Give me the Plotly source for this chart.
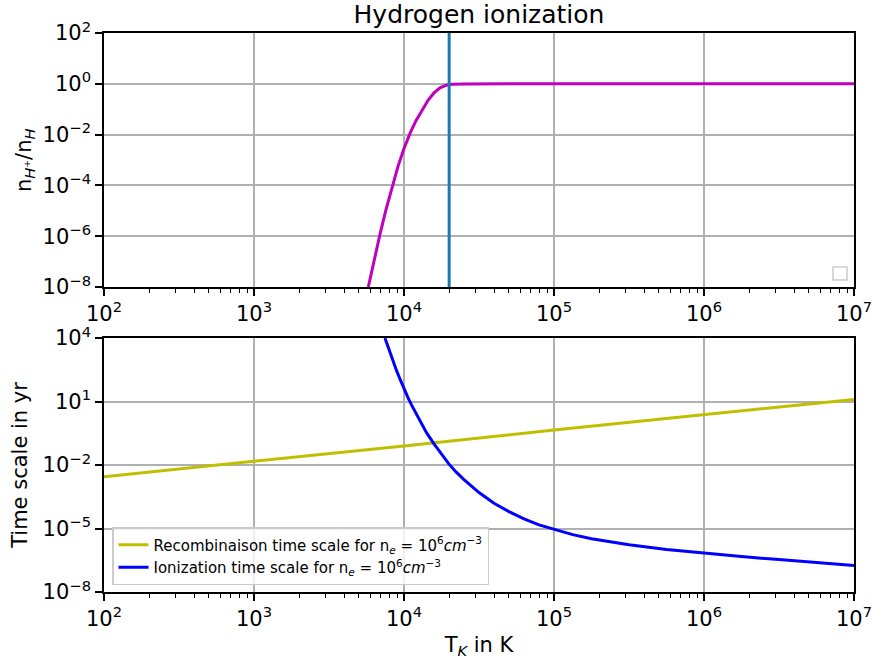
import plotly.graph_objects as go

# ---- data ----
# top panel: ionization fraction n_H+/n_H vs temperature (K)
frac_T = [5781, 6310, 6918, 7586, 8318, 9120, 10000, 10965, 12023, 13183,
          14454, 15849, 17378, 19055, 20893, 25119, 31623, 1e5, 1e6, 1e7]
frac_val = [1e-8, 1.12e-7, 1.20e-6, 1.12e-5, 8.91e-5, 5.62e-4, 2.82e-3, 1.12e-2,
            3.55e-2, 9.55e-2, 0.224, 0.437, 0.692, 0.871, 0.955, 0.989, 0.998,
            1.0, 1.0, 1.0]
T_marker = 2e4  # vertical line position (K)

# bottom panel: time scales in yr
recomb_T = [1e2, 1e3, 1e4, 1e5, 1e6, 1e7]
recomb_t = [2.82e-3, 1.45e-2, 7.94e-2, 0.447, 2.29, 12.6]

ion_T = [7464, 7943, 8913, 9441, 10000, 10593, 11220, 12589, 14125, 15849,
         17783, 19953, 22387, 25119, 31623, 39811, 50119, 63096, 79433, 1e5,
         133352, 177828, 237137, 316228, 562341, 1e6, 1778279, 3162278,
         5623413, 1e7]
ion_t = [1e4, 2692, 295, 107, 38.0, 16.2, 6.92, 1.41, 0.339, 0.1,
         0.0339, 0.01096, 4.47e-3, 2.04e-3, 5.01e-4, 1.55e-4, 6.31e-5, 2.88e-5,
         1.48e-5, 8.91e-6, 5.13e-6, 3.31e-6, 2.29e-6, 1.70e-6, 1.02e-6, 6.76e-7,
         4.73e-7, 3.39e-7, 2.51e-7, 1.78e-7]

x_tick_exp = [2, 3, 4, 5, 6, 7]
y1_tick_exp = [-8, -6, -4, -2, 0, 2]
y2_tick_exp = [-8, -5, -2, 1, 4]

title_text = "Hydrogen ionization"
y1_label = "n<sub><i>H</i>\u207a</sub>/n<sub><i>H</i></sub>"
y2_label = "Time scale in yr"
x_label = "T<sub><i>K</i></sub> in K"
legend_recomb = "Recombinaison time scale for n<sub><i>e</i></sub> = 10<sup>6</sup><i>cm</i><sup>\u22123</sup>"
legend_ion = "Ionization time scale for n<sub><i>e</i></sub> = 10<sup>6</sup><i>cm</i><sup>\u22123</sup>"


def pow_label(e):
    s = str(e).replace("-", "\u2212")
    return f"10<sup>{s}</sup>"


FONT = "DejaVu Sans"
W, H = 872, 666
L, R, T, B = 104, 18, 33, 74
pw = W - L - R
ph = H - T - B
top_dom = [(592 - 287) / ph, 1.0]
bot_dom = [0.0, (592 - 338) / ph]

fig = go.Figure()

fig.add_trace(go.Scatter(x=frac_T, y=frac_val, mode="lines",
                         line=dict(color="#bf00bf", width=3),
                         xaxis="x", yaxis="y", showlegend=False))
fig.add_trace(go.Scatter(x=recomb_T, y=recomb_t, mode="lines", name=legend_recomb,
                         line=dict(color="#bfbf00", width=3),
                         xaxis="x2", yaxis="y2"))
fig.add_trace(go.Scatter(x=ion_T, y=ion_t, mode="lines", name=legend_ion,
                         line=dict(color="#0000ff", width=3),
                         xaxis="x2", yaxis="y2"))

fig.add_shape(type="line", xref="x", yref="y domain", x0=T_marker, x1=T_marker,
              y0=0, y1=1, line=dict(color="#1f77b4", width=3))

# empty legend box in top panel
fig.add_shape(type="rect", xref="paper", yref="paper",
              x0=(833 - L) / pw, x1=(847 - L) / pw,
              y0=(592 - 280) / ph, y1=(592 - 267) / ph,
              line=dict(color="#cccccc", width=1.5), fillcolor="white")

# top y-axis label as annotation for exact placement
fig.add_annotation(text=y1_label, xref="paper", yref="paper",
                   x=(25 - L) / pw, y=(top_dom[0] + top_dom[1]) / 2,
                   xanchor="center", yanchor="middle", textangle=-90,
                   showarrow=False, font=dict(family=FONT, size=21, color="black"))

minor_vals = [m * 10 ** e for e in range(2, 7) for m in range(2, 10)]

xcommon = dict(type="log", range=[2, 7], tickvals=[10 ** e for e in x_tick_exp],
               ticktext=[pow_label(e) for e in x_tick_exp],
               showgrid=True, gridcolor="#b0b0b0", gridwidth=1.6,
               showline=True, linecolor="black", linewidth=1.6, mirror=True,
               ticks="outside", ticklen=7, tickwidth=1.6, tickcolor="black",
               minor=dict(tickvals=minor_vals, ticks="outside", ticklen=4,
                          tickwidth=1.2, tickcolor="black", showgrid=False),
               tickfont=dict(family=FONT, size=21, color="black"),
               ticklabeloverflow="allow",
               zeroline=False, automargin=False)
ycommon = dict(type="log", showgrid=True, gridcolor="#b0b0b0", gridwidth=1.6,
               showline=True, linecolor="black", linewidth=1.6, mirror=True,
               ticks="outside", ticklen=7, tickwidth=1.6, tickcolor="black",
               tickfont=dict(family=FONT, size=21, color="black"),
               zeroline=False, automargin=False)

fig.update_layout(
    width=W, height=H,
    margin=dict(l=L, r=R, t=T, b=B, autoexpand=False),
    paper_bgcolor="white", plot_bgcolor="white",
    font=dict(family=FONT, color="black"),
    title=dict(text=title_text, x=0.5, xref="paper", xanchor="center",
               y=1 - 14 / H, yref="container", yanchor="middle",
               font=dict(family=FONT, size=25, color="black"), automargin=False),
    xaxis=dict(**xcommon, domain=[0, 1], anchor="y"),
    yaxis=dict(**ycommon, domain=top_dom, anchor="x", range=[-8, 2],
               tickvals=[10 ** e for e in y1_tick_exp],
               ticktext=[pow_label(e) for e in y1_tick_exp]),
    xaxis2=dict(**xcommon, domain=[0, 1], anchor="y2",
                title=dict(text=x_label, standoff=7,
                           font=dict(family=FONT, size=21, color="black"))),
    yaxis2=dict(**ycommon, domain=bot_dom, anchor="x2", range=[-8, 4],
                tickvals=[10 ** e for e in y2_tick_exp],
                ticktext=[pow_label(e) for e in y2_tick_exp],
                title=dict(text=y2_label, standoff=9,
                           font=dict(family=FONT, size=21, color="black"))),
    legend=dict(x=(112 - L) / pw, y=(592 - 585) / ph, xanchor="left", yanchor="bottom",
                bgcolor="rgba(255,255,255,0.8)", bordercolor="#cccccc", borderwidth=1.5,
                font=dict(family=FONT, size=15, color="black"), itemwidth=30),
    showlegend=True,
)

fig.write_html("out.html", config={"displayModeBar": False},
               post_script="document.body.style.margin='0';document.body.style.overflow='hidden';")
